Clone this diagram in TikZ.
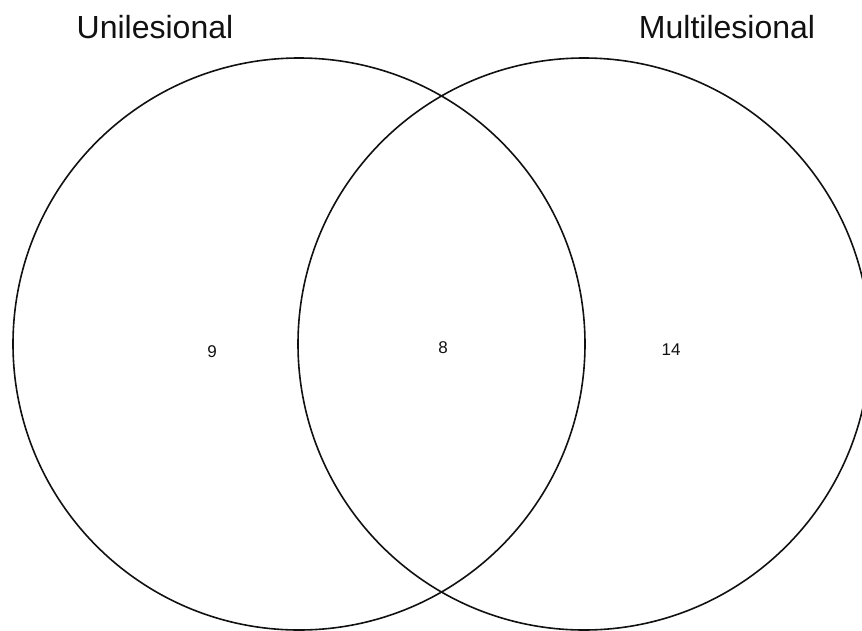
\documentclass[tikz,border=0pt]{standalone}
\usepackage{fontspec}
\setmainfont{Liberation Sans}
\usepackage{xcolor}
\usepackage{tikz}
\usetikzlibrary{positioning}
\definecolor{vnInk}{HTML}{111111}
\tikzset{
  % Set circle
  setcirc/.style={circle,draw=vnInk,line width=1.6pt,
    minimum size=572pt,inner sep=0pt},
  % Set title
  settitle/.style={font=\fontsize{32}{36}\selectfont,text=vnInk,inner sep=0pt},
  % Region count
  cnt/.style={font=\fontsize{17}{20}\selectfont,text=vnInk,inner sep=0pt},
}
\begin{document}
\begin{tikzpicture}[x=1pt,y=-1pt]
  \useasboundingbox (0,0) rectangle (862,630);
  \node[setcirc] (uni) at (299,344) {};
  \node[setcirc] (multi) at (584,344) {};

  \node[settitle] (tuni) at (155,27) {Unilesional};
  \node[settitle] (tmulti) at (727,27) {Multilesional};

  \node[cnt] (nuni) at (212,352) {9};
  \node[cnt] (nboth) at (443,348) {8};
  \node[cnt] (nmulti) at (671,350) {14};
\end{tikzpicture}
\end{document}
